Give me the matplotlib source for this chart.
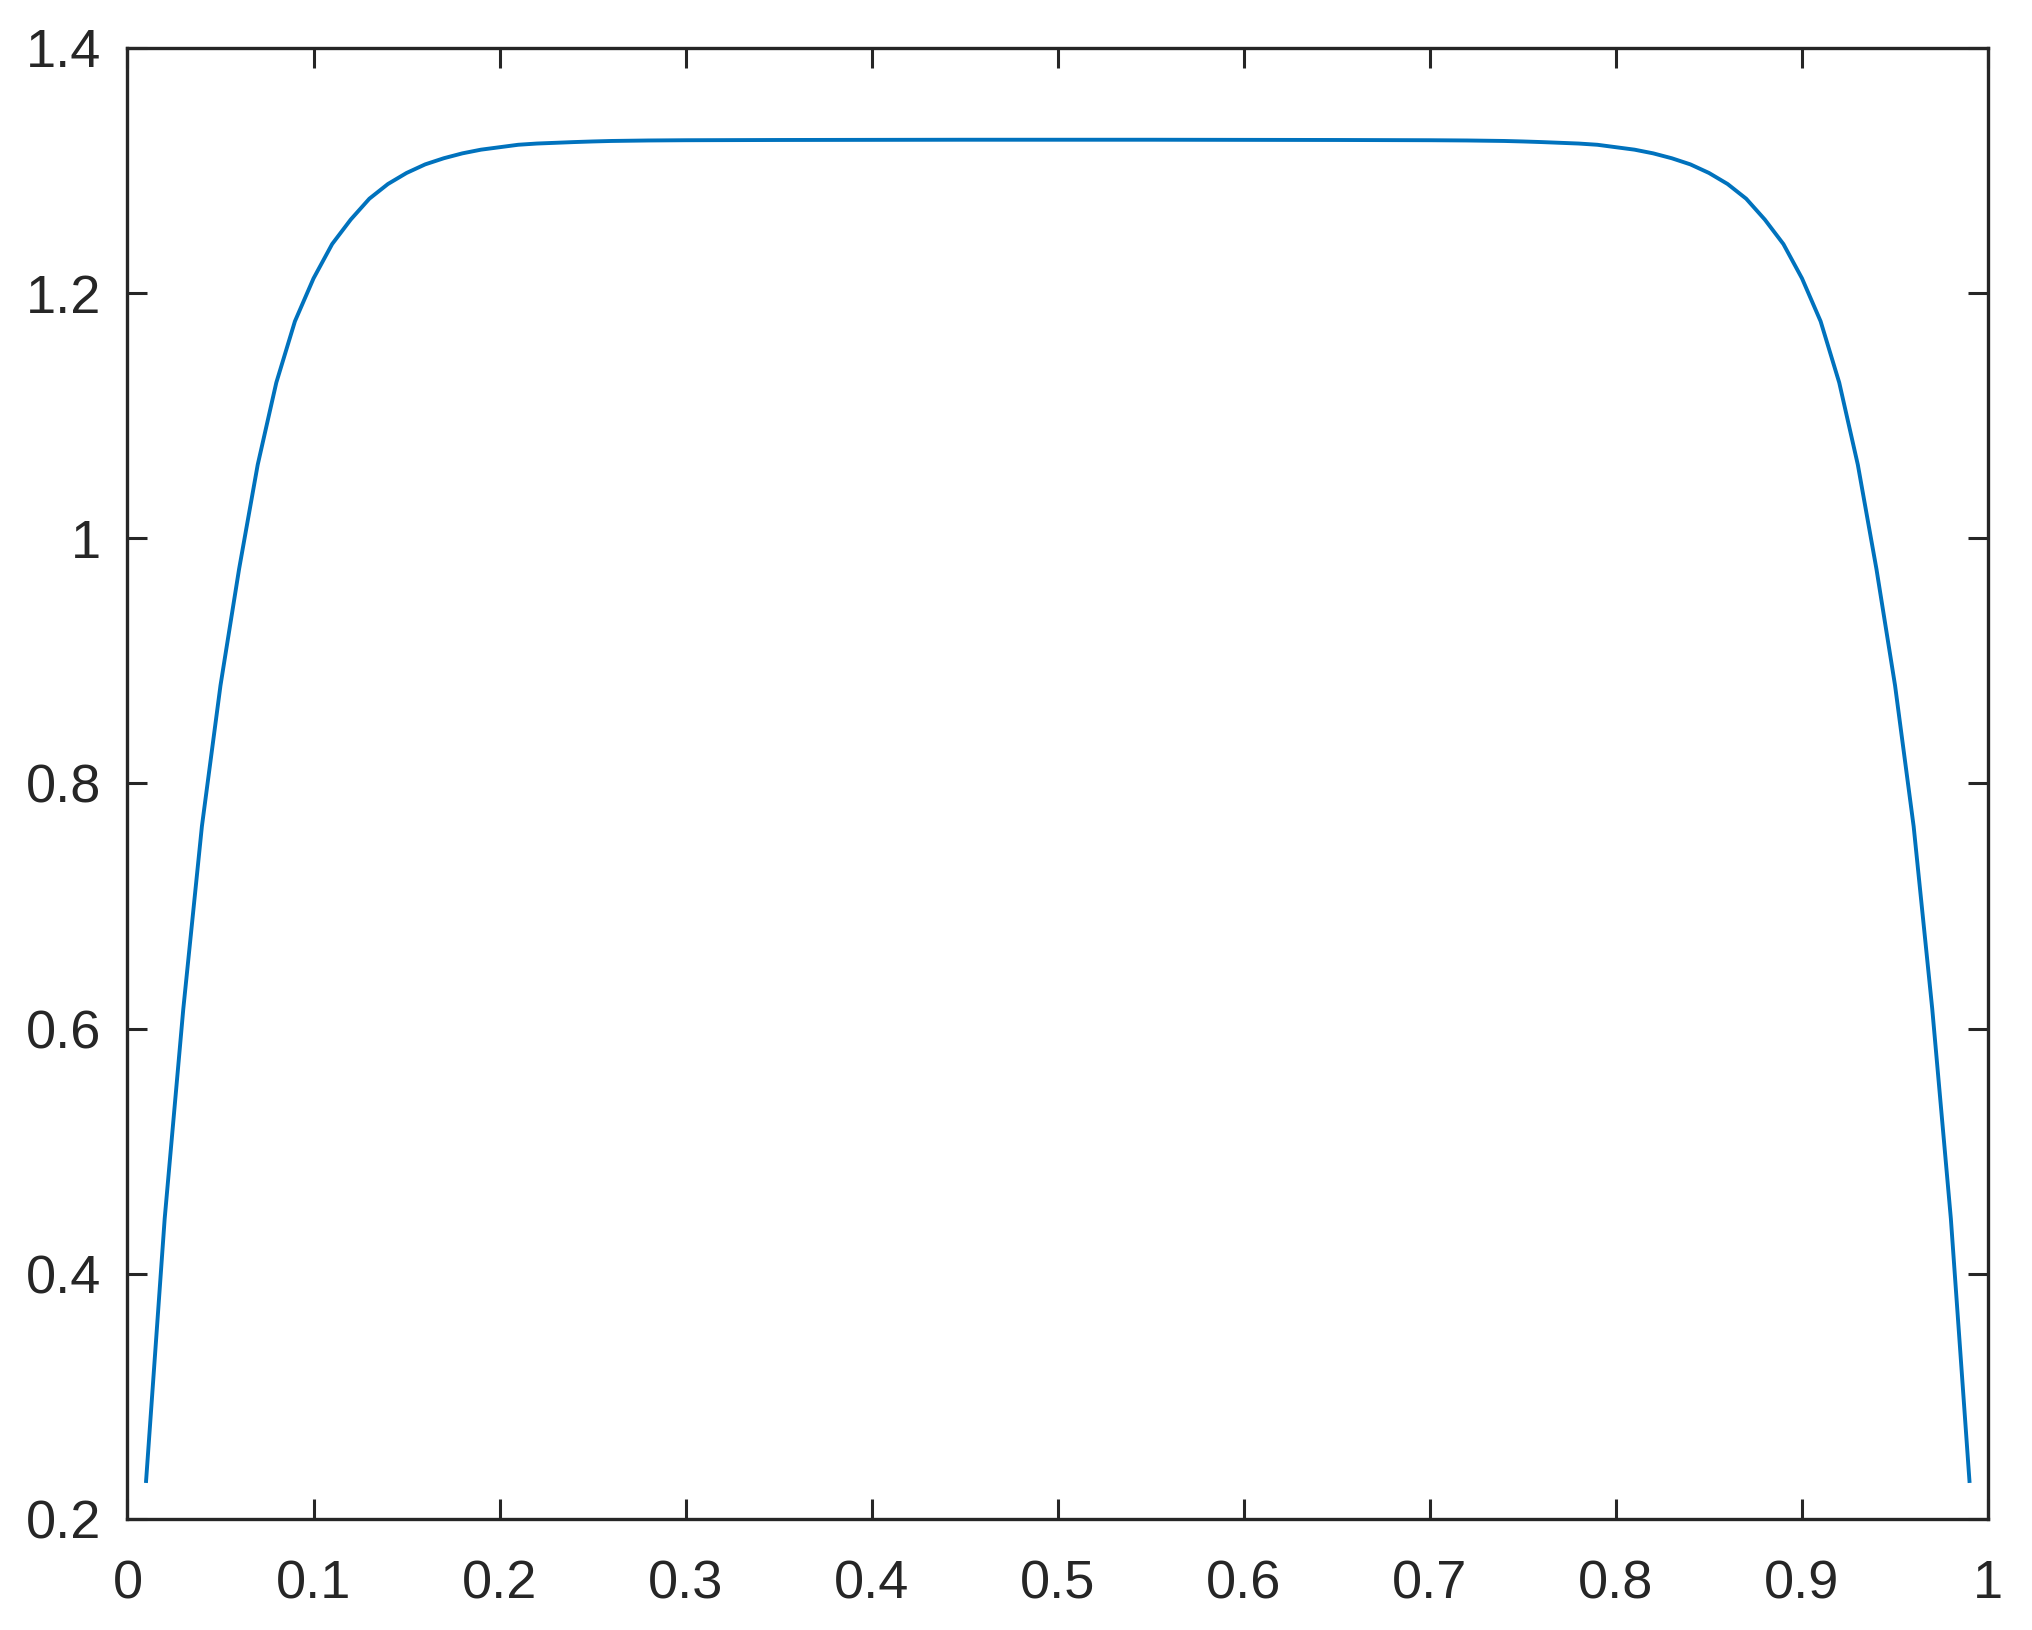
import matplotlib.pyplot as plt
import numpy as np

plt.rcParams['font.family'] = ['Liberation Sans', 'DejaVu Sans']

# curve samples
xs = [0.01, 0.02, 0.03, 0.04, 0.05, 0.06, 0.07, 0.08, 0.09, 0.10,
      0.11, 0.12, 0.13, 0.14, 0.15, 0.16, 0.17, 0.18, 0.19, 0.20,
      0.21, 0.22, 0.23, 0.24, 0.25, 0.26, 0.28, 0.30, 0.35, 0.40,
      0.45, 0.50, 0.55, 0.60, 0.65, 0.70, 0.72, 0.74, 0.75, 0.76,
      0.77, 0.78, 0.79, 0.80, 0.81, 0.82, 0.83, 0.84, 0.85, 0.86,
      0.87, 0.88, 0.89, 0.90, 0.91, 0.92, 0.93, 0.94, 0.95, 0.96,
      0.97, 0.98, 0.99]
ys = [0.231, 0.445, 0.616, 0.765, 0.880, 0.975, 1.060, 1.127, 1.177, 1.212,
      1.240, 1.260, 1.277, 1.289, 1.298, 1.305, 1.310, 1.314, 1.317, 1.319,
      1.321, 1.322, 1.3226, 1.3232, 1.3237, 1.3241, 1.3245, 1.3247, 1.3249, 1.3250,
      1.3251, 1.3251, 1.3251, 1.3250, 1.3249, 1.3247, 1.3245, 1.3241, 1.3237, 1.3232,
      1.3226, 1.322, 1.321, 1.319, 1.317, 1.314, 1.310, 1.305, 1.298, 1.289,
      1.277, 1.260, 1.240, 1.212, 1.177, 1.127, 1.060, 0.975, 0.880, 0.765,
      0.616, 0.445, 0.231]

xticks = [0, 0.1, 0.2, 0.3, 0.4, 0.5, 0.6, 0.7, 0.8, 0.9, 1]
xticklabels = ['0', '0.1', '0.2', '0.3', '0.4', '0.5', '0.6', '0.7', '0.8', '0.9', '1']
yticks = [0.2, 0.4, 0.6, 0.8, 1.0, 1.2, 1.4]
yticklabels = ['0.2', '0.4', '0.6', '0.8', '1', '1.2', '1.4']

fig = plt.figure(figsize=(20.33, 16.30), dpi=100)
ax = fig.add_axes([0.0627, 0.0681, 0.9152, 0.9025])

ax.plot(xs, ys, color='#0072BD', lw=2.8)

ax.set_xlim(0, 1)
ax.set_ylim(0.2, 1.4)
ax.set_xticks(xticks)
ax.set_xticklabels(xticklabels)
ax.set_yticks(yticks)
ax.set_yticklabels(yticklabels)

for s in ax.spines.values():
    s.set_linewidth(2.4)
    s.set_color('#262626')
ax.tick_params(direction='in', length=14.5, width=2.2, color='#262626',
               labelcolor='#262626', labelsize=39, top=True, right=True)
ax.tick_params(axis='x', pad=29)
ax.tick_params(axis='y', pad=19)

fig.savefig('out.png', dpi=100)
